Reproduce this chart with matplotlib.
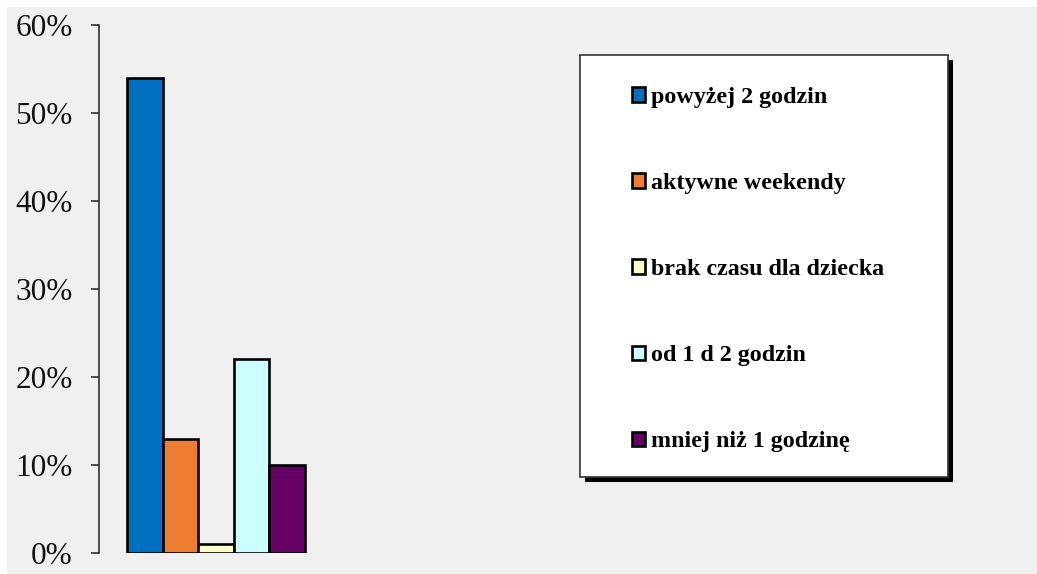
import matplotlib
matplotlib.use("Agg")
import matplotlib.pyplot as plt
from matplotlib.patches import Rectangle
from matplotlib.ticker import PercentFormatter

categories = ["powyżej 2 godzin", "aktywne weekendy", "brak czasu dla dziecka",
              "od 1 d 2 godzin", "mniej niż 1 godzinę"]
values = [54, 13, 1, 22, 10]
colors = ["#0070C0", "#ED7D31", "#FFFFCC", "#CCFFFF", "#660066"]
yticks = [0, 10, 20, 30, 40, 50, 60]

W, H = 1037, 574
fig = plt.figure(figsize=(W / 100, H / 100), dpi=100)
fig.patch.set_facecolor("white")

def px(x0, y0, w, h):
    # pixel box (top-left origin) -> figure fraction
    return [x0 / W, 1 - (y0 + h) / H, w / W, h / H]

# gray background panel
fig.patches.append(Rectangle((7 / W, 0), 1, 1 - 7 / H, transform=fig.transFigure,
                             facecolor="#f0f0f0", edgecolor="none", zorder=-5))

ax = fig.add_axes(px(99, 25, 461, 528))
ax.set_zorder(3)
ax.set_facecolor("none")
xpos = list(range(len(values)))
bars = ax.bar(xpos, values, width=1.0, color=colors, edgecolor="black",
              linewidth=1.9)
ax.set_xlim(-0.5 - 28 / 35.6, 4.5 + 255 / 35.6)
ax.set_ylim(0, 60)
ax.set_yticks(yticks)
ax.yaxis.set_major_formatter(PercentFormatter(decimals=0))
for s in ["top", "right", "bottom"]:
    ax.spines[s].set_visible(False)
ax.spines["left"].set_color("#222222")
ax.spines["left"].set_linewidth(1.1)
ax.set_xticks([])
ax.tick_params(axis="y", direction="out", length=6, width=1.1, color="#222222",
               pad=13, labelsize=22.5, labelcolor="#111111")
for lab in ax.get_yticklabels():
    lab.set_fontfamily("Liberation Serif")

# legend box with shadow (pixel layout)
bx, by, bw, bh = 580, 55, 368, 422
s = px(bx + 5, by + 5, bw, bh)
fig.patches.append(Rectangle((s[0], s[1]), bw / W, bh / H, transform=fig.transFigure,
                             facecolor="black", edgecolor="none", zorder=1))
b = px(bx, by, bw, bh)
fig.patches.append(Rectangle((b[0], b[1]), bw / W, bh / H, transform=fig.transFigure,
                             facecolor="white", edgecolor="#333333", linewidth=1.2, zorder=2))

handles = [Rectangle((0, 0), 1, 1, facecolor=c, edgecolor="black", linewidth=1.9) for c in colors]
leg = fig.legend(handles, categories, loc="upper left",
                 bbox_to_anchor=(632 / W, 1 - 87 / H), frameon=False,
                 prop={"family": "Liberation Serif", "weight": "bold", "size": 17.3},
                 handlelength=0.55, handleheight=0.55, handletextpad=0.25,
                 labelspacing=2.71, borderpad=0, borderaxespad=0)
leg.set_zorder(5)

fig.savefig("out.png", dpi=100, facecolor=fig.get_facecolor())
